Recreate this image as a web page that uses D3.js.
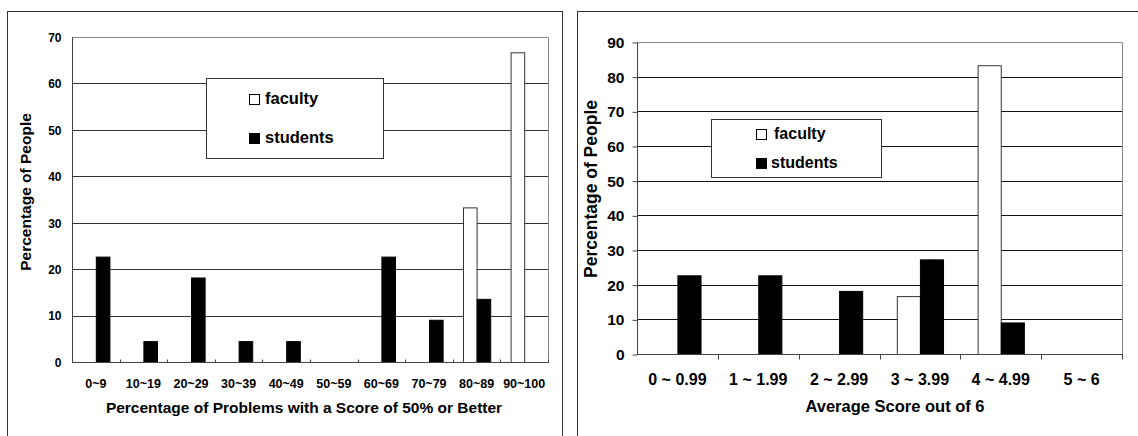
<!DOCTYPE html>
<html>
<head>
<meta charset="utf-8">
<script src="https://cdn.jsdelivr.net/npm/d3@7"></script>
<style>
  body { margin: 0; background: #fff; }
  svg { display: block; font-family: "Liberation Sans", Arial, sans-serif; font-weight: bold; }
</style>
</head>
<body>
<svg width="1138" height="436"></svg>
<script>
const svg = d3.select('svg');

// left chart data
const leftCats = ['0~9', '10~19', '20~29', '30~39', '40~49', '50~59', '60~69', '70~79', '80~89', '90~100'];
const leftFaculty = [0, 0, 0, 0, 0, 0, 0, 0, 33.3, 66.7];
const leftStudents = [22.7, 4.5, 18.2, 4.5, 4.5, 0, 22.7, 9.1, 13.6, 0];
const leftTicks = [0, 10, 20, 30, 40, 50, 60, 70];

// right chart data
const rightCats = ['0 ~ 0.99', '1 ~ 1.99', '2 ~ 2.99', '3 ~ 3.99', '4 ~ 4.99', '5 ~ 6'];
const rightFaculty = [0, 0, 0, 16.7, 83.3, 0];
const rightStudents = [22.7, 22.7, 18.2, 27.3, 9.1, 0];
const rightTicks = [0, 10, 20, 30, 40, 50, 60, 70, 80, 90];

const series = ['faculty', 'students'];
const fills = { faculty: '#fff', students: '#000' };

const drawPanel = cfg => {
  const g = svg.append('g');

  // outer frame
  g.append('rect')
    .attr('x', cfg.frame[0] + 0.5).attr('y', cfg.frame[1] + 0.5)
    .attr('width', cfg.frame[2]).attr('height', cfg.frame[3])
    .attr('fill', 'none').attr('stroke', '#333');

  const x = d3.scaleBand().domain(cfg.cats).range([cfg.x0, cfg.x1]);
  const pad = x.bandwidth() * 0.214;
  const x1 = d3.scaleBand().domain(series).range([pad, x.bandwidth() - pad]);
  const y = d3.scaleLinear().domain([0, cfg.ymax]).range([cfg.y1, cfg.y0]);

  // gridlines
  g.append('g').selectAll('line').data(cfg.ticks.filter(t => t > 0 && t < cfg.ymax))
    .enter().append('line')
    .attr('x1', cfg.x0).attr('x2', cfg.x1)
    .attr('y1', d => Math.round(y(d)) + 0.5).attr('y2', d => Math.round(y(d)) + 0.5)
    .attr('stroke', cfg.gridColor);

  // plot border top/right
  g.append('path')
    .attr('d', `M${cfg.x0},${cfg.y0 + 0.5}H${cfg.x1 + 0.5}V${cfg.y1}`)
    .attr('fill', 'none').attr('stroke', '#888');

  // bars
  const rows = cfg.cats.map((c, i) => ({ cat: c, faculty: cfg.faculty[i], students: cfg.students[i] }));
  g.append('g').selectAll('g').data(rows)
    .enter().append('g')
    .attr('transform', d => `translate(${x(d.cat)},0)`)
    .selectAll('rect').data(d => series.map(s => ({ s, v: d[s] })).filter(e => e.v > 0))
    .enter().append('rect')
    .attr('x', d => x1(d.s) + 0.5)
    .attr('y', d => y(d.v) + 0.5)
    .attr('width', x1.bandwidth())
    .attr('height', d => y(0) - y(d.v))
    .attr('fill', d => fills[d.s])
    .attr('stroke', d => d.s === 'faculty' ? '#333' : '#000');

  // y axis
  const yAxis = d3.axisLeft(y).tickValues(cfg.ticks).tickSize(cfg.yTick).tickPadding(cfg.yPad);
  const ya = g.append('g').attr('transform', `translate(${cfg.x0 + 0.5},0.5)`).call(yAxis);
  ya.select('.domain').attr('stroke', '#444').attr('d', `M0,${cfg.y0}V${cfg.y1}`);
  ya.selectAll('.tick line').attr('stroke', '#444');
  ya.selectAll('text').attr('font-size', cfg.yFont).attr('font-family', null).attr('fill', '#000');

  // x axis (category boundaries)
  const xa = g.append('g').attr('transform', `translate(0,${cfg.y1 + 0.5})`);
  xa.append('line').attr('x1', cfg.x0).attr('x2', cfg.x1 + 1).attr('stroke', '#444');
  const bounds = cfg.cats.map(c => x(c)).concat([cfg.x1]).slice(1);
  xa.selectAll('.tk').data(bounds).enter().append('line')
    .attr('x1', d => Math.round(d) + 0.5).attr('x2', d => Math.round(d) + 0.5)
    .attr('y1', 0).attr('y2', cfg.xTick)
    .attr('stroke', '#444');
  xa.selectAll('text').data(cfg.cats).enter().append('text')
    .attr('x', d => x(d) + x.bandwidth() / 2)
    .attr('y', cfg.xLabelY - cfg.y1)
    .attr('text-anchor', 'middle')
    .attr('font-size', cfg.xFont)
    .text(d => d);

  // axis titles
  g.append('text')
    .attr('x', cfg.xTitle[0]).attr('y', cfg.xTitle[1])
    .attr('text-anchor', 'middle').attr('font-size', cfg.titleFont)
    .text(cfg.xLabel);
  g.append('text')
    .attr('transform', `translate(${cfg.yTitle[0]},${cfg.yTitle[1]}) rotate(-90)`)
    .attr('text-anchor', 'middle').attr('dy', '0.35em').attr('font-size', cfg.yTitleFont)
    .text('Percentage of People');

  // legend
  const lg = g.append('g');
  const [lx, ly, lw, lh] = cfg.legend;
  lg.append('rect').attr('x', lx + 0.5).attr('y', ly + 0.5).attr('width', lw).attr('height', lh)
    .attr('fill', '#fff').attr('stroke', '#333');
  series.forEach((s, i) => {
    const sy = cfg.legendRows[i];
    lg.append('rect')
      .attr('x', cfg.legendSq + 0.5).attr('y', sy - 10 + 0.5)
      .attr('width', 10).attr('height', 10)
      .attr('fill', fills[s]).attr('stroke', '#000');
    lg.append('text')
      .attr('x', cfg.legendText[i]).attr('y', sy)
      .attr('font-size', cfg.legendFont)
      .text(s);
  });
};

drawPanel({
  frame: [7, 11, 555, 440],
  cats: leftCats, faculty: leftFaculty, students: leftStudents, ticks: leftTicks, ymax: 70,
  x0: 72, x1: 548, y0: 37, y1: 362,
  gridColor: '#333',
  yTick: 0, yPad: 11, yFont: 12,
  xTick: -3, xLabelY: 387, xFont: 12.5,
  xLabel: 'Percentage of Problems with a Score of 50% or Better', xTitle: [304, 413], titleFont: 15.5,
  yTitle: [26, 192], yTitleFont: 15.5,
  legend: [206, 78, 177, 80], legendSq: 249, legendRows: [104, 143],
  legendText: [265, 265], legendFont: 16.5
});

drawPanel({
  frame: [577, 11, 570, 440],
  cats: rightCats, faculty: rightFaculty, students: rightStudents, ticks: rightTicks, ymax: 90,
  x0: 637, x1: 1122, y0: 42, y1: 354,
  gridColor: '#111',
  yTick: 5, yPad: 8, yFont: 15.5,
  xTick: 5, xLabelY: 384, xFont: 16,
  xLabel: 'Average Score out of 6', xTitle: [895, 412], titleFont: 16.5,
  yTitle: [591, 189], yTitleFont: 17.5,
  legend: [711, 119, 170, 58], legendSq: 756, legendRows: [139, 168],
  legendText: [774, 771], legendFont: 16
});
</script>
</body>
</html>
